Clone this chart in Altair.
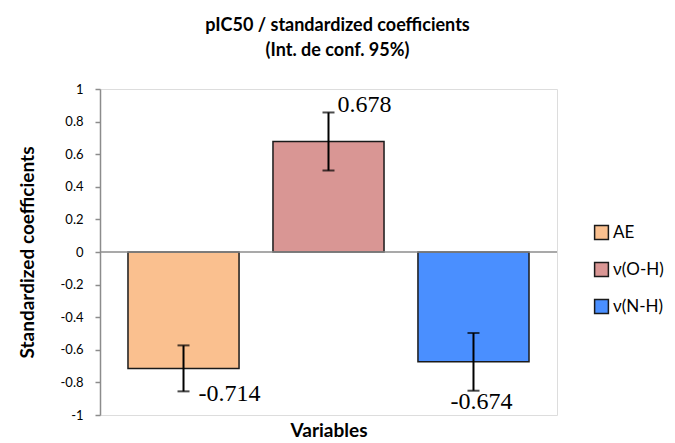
import altair as alt
import pandas as pd

variables = ["AE", "ν(O-H)", "ν(N-H)"]
coefs = [-0.714, 0.678, -0.674]
lower = [-0.855, 0.500, -0.851]
upper = [-0.573, 0.856, -0.497]
labels = ["-0.714", "0.678", "-0.674"]
colors = ["#FAC08F", "#D99694", "#4A8FFF"]
y_ticks = [-1, -0.8, -0.6, -0.4, -0.2, 0, 0.2, 0.4, 0.6, 0.8, 1]

df = pd.DataFrame({"var": variables, "coef": coefs, "lo": lower, "hi": upper, "label": labels})

FONT = "Lato"

x = alt.X("var:N", sort=variables, scale=alt.Scale(paddingInner=0.234, paddingOuter=0.193),
          axis=alt.Axis(labels=False, ticks=False, domain=False, title="Variables",
                        titleFont=FONT, titleFontSize=19, titleFontWeight="bold",
                        titleColor="#000", titlePadding=6))
yscale = alt.Scale(domain=[-1, 1], nice=False, zero=False)

base = alt.Chart(df)

bars = base.mark_bar(stroke="#1a1a1a", strokeWidth=1.5).encode(
    x=x,
    y=alt.Y("coef:Q", scale=yscale,
            axis=alt.Axis(values=y_ticks, tickCount=20, grid=False, domainColor="#8c8c8c",
                          tickColor="#8c8c8c",
                          domainWidth=1.5, tickWidth=1.5, tickSize=5, labelPadding=12,
                          labelOverlap=False, labelFlush=False,
                          labelFont=FONT, labelFontSize=13, labelColor="#000",
                          labelExpr="'' + datum.value",
                          title="Standardized coefficients", titleFont=FONT, titleFontSize=19,
                          titleFontWeight="bold", titleColor="#000", titlePadding=23)),
    color=alt.Color("var:N", sort=variables, scale=alt.Scale(domain=variables, range=colors),
                    legend=alt.Legend(title=None, orient="none", legendX=493, legendY=135,
                                      symbolType="square", symbolSize=190, symbolStrokeColor="#1a1a1a",
                                      symbolStrokeWidth=1.5, labelFont=FONT, labelFontSize=17,
                                      labelColor="#000", rowPadding=16, labelOffset=3)),
)

zero = alt.Chart(pd.DataFrame({"z": [0]})).mark_rule(color="#8c8c8c", strokeWidth=1.5).encode(
    y=alt.Y("z:Q", scale=yscale))

err = base.mark_rule(color="#000", strokeWidth=2).encode(
    x=alt.X("var:N", sort=variables), y="lo:Q", y2="hi:Q")
cap_lo = base.mark_tick(color="#000", thickness=2, size=12).encode(
    x=alt.X("var:N", sort=variables), y="lo:Q")
cap_hi = base.mark_tick(color="#000", thickness=2, size=12).encode(
    x=alt.X("var:N", sort=variables), y="hi:Q")

def label_layer(i, field, dx, dy, align, baseline):
    return base.transform_filter(alt.datum["var"] == variables[i]).mark_text(
        font="Liberation Serif", fontSize=24, color="#000", align=align, baseline=baseline,
        dx=dx, dy=dy).encode(x=alt.X("var:N", sort=variables), y=f"{field}:Q", text="label:N")

lbls = [
    label_layer(0, "lo", 15, 3, "left", "middle"),
    label_layer(1, "hi", 9, 0, "left", "alphabetic"),
    label_layer(2, "lo", -23, 11, "left", "middle"),
]

chart = alt.layer(bars, zero, err, cap_lo, cap_hi, *lbls).properties(
    width=457, height=326,
    title=alt.TitleParams(["pIC50 / standardized coefficients", "(Int. de conf. 95%)"],
                          font=FONT, fontSize=18, fontWeight="bold", color="#000",
                          anchor="middle", dx=9, offset=23, lineHeight=25),
    autosize=alt.AutoSizeParams(type="none"),
    padding={"left": 100, "top": 89, "right": 118, "bottom": 28},
).configure_view(stroke="#8c8c8c", strokeWidth=1.5).configure(background="white")

chart.save("out.html", embed_options={"renderer": "svg", "actions": False})
